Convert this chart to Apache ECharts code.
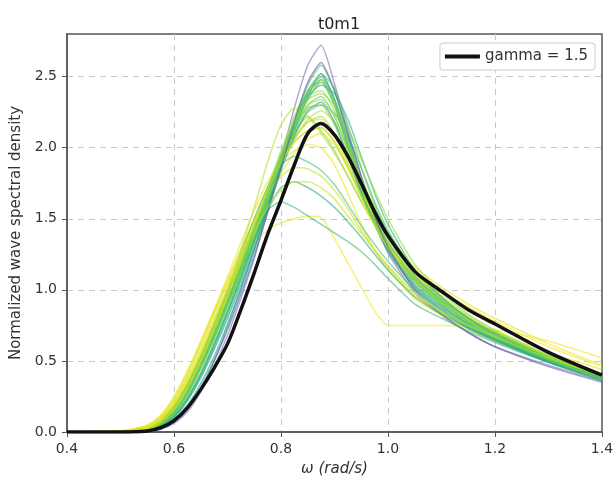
<!DOCTYPE html>
<html>
<head>
<meta charset="utf-8">
<script src="https://cdn.jsdelivr.net/npm/echarts@6/dist/echarts.min.js"></script>
<style>
  html, body { margin: 0; padding: 0; background: #ffffff; }
  #chart { width: 613px; height: 479px; }
</style>
</head>
<body>
<div id="chart"></div>
<script>
// Frequency grid (rad/s) shared by every spectrum
const omega = [0.40, 0.50, 0.55, 0.575, 0.60, 0.625, 0.65, 0.675, 0.70, 0.725, 0.75, 0.775, 0.80, 0.825, 0.85, 0.875, 0.90, 0.925, 0.95, 0.975, 1.00, 1.05, 1.10, 1.15, 1.20, 1.30, 1.40];

// Reference JONSWAP spectrum, gamma = 1.5
const gammaSpectrum = [0, 0, 0.007, 0.03, 0.08, 0.17, 0.30, 0.45, 0.62, 0.86, 1.12, 1.39, 1.63, 1.88, 2.10, 2.17, 2.09, 1.94, 1.75, 1.55, 1.38, 1.13, 0.99, 0.86, 0.76, 0.56, 0.40];

// Measured spectra (normalized), one per record
const s01 = [0, 0, 0.005, 0.02, 0.06, 0.14, 0.28, 0.46, 0.68, 0.94, 1.22, 1.56, 1.92, 2.28, 2.58, 2.72, 2.45, 2.12, 1.80, 1.50, 1.26, 0.98, 0.82, 0.70, 0.60, 0.47, 0.36];
const s02 = [0, 0, 0.01, 0.04, 0.10, 0.22, 0.38, 0.58, 0.80, 1.04, 1.30, 1.58, 1.86, 2.12, 2.36, 2.52, 2.34, 2.04, 1.74, 1.50, 1.30, 1.04, 0.88, 0.76, 0.66, 0.50, 0.38];
const s03 = [0, 0, 0.02, 0.06, 0.15, 0.29, 0.47, 0.68, 0.90, 1.13, 1.38, 1.64, 1.90, 2.14, 2.34, 2.46, 2.30, 2.02, 1.74, 1.50, 1.32, 1.07, 0.90, 0.77, 0.67, 0.51, 0.38];
const s04 = [0, 0, 0.02, 0.07, 0.17, 0.32, 0.50, 0.71, 0.93, 1.16, 1.40, 1.66, 1.90, 2.10, 2.25, 2.30, 2.16, 1.94, 1.70, 1.49, 1.32, 1.08, 0.92, 0.79, 0.69, 0.52, 0.39];
const s05 = [0, 0, 0.03, 0.08, 0.19, 0.35, 0.54, 0.75, 0.97, 1.20, 1.43, 1.66, 1.88, 2.06, 2.18, 2.22, 2.10, 1.90, 1.68, 1.48, 1.31, 1.08, 0.93, 0.80, 0.70, 0.53, 0.40];
const s06 = [0, 0.005, 0.04, 0.10, 0.22, 0.40, 0.62, 0.84, 1.04, 1.20, 1.33, 1.42, 1.47, 1.50, 1.52, 1.51, 1.36, 1.19, 1.02, 0.85, 0.75, 0.75, 0.75, 0.74, 0.72, 0.64, 0.52];
const s07 = [0, 0.005, 0.05, 0.12, 0.25, 0.43, 0.64, 0.86, 1.09, 1.33, 1.56, 1.76, 1.90, 1.98, 2.02, 2.00, 1.88, 1.68, 1.46, 1.28, 1.14, 0.94, 0.82, 0.72, 0.64, 0.50, 0.39];
const s08 = [0, 0, 0.02, 0.06, 0.15, 0.30, 0.48, 0.70, 0.93, 1.16, 1.38, 1.56, 1.62, 1.58, 1.52, 1.46, 1.40, 1.34, 1.27, 1.18, 1.08, 0.90, 0.80, 0.71, 0.63, 0.49, 0.37];
const s09 = [0, 0, 0.01, 0.05, 0.13, 0.27, 0.45, 0.66, 0.89, 1.12, 1.35, 1.56, 1.72, 1.76, 1.72, 1.66, 1.58, 1.48, 1.37, 1.25, 1.14, 0.95, 0.83, 0.73, 0.65, 0.50, 0.38];
const s10 = [0, 0, 0.03, 0.09, 0.20, 0.37, 0.57, 0.79, 1.01, 1.24, 1.46, 1.66, 1.80, 1.86, 1.85, 1.80, 1.70, 1.57, 1.42, 1.28, 1.16, 0.96, 0.84, 0.74, 0.66, 0.51, 0.39];
const s11 = [0, 0, 0.01, 0.04, 0.11, 0.23, 0.40, 0.61, 0.84, 1.08, 1.34, 1.62, 1.92, 2.20, 2.44, 2.58, 2.40, 2.08, 1.76, 1.50, 1.30, 1.03, 0.87, 0.75, 0.65, 0.50, 0.37];
const s12 = [0, 0, 0.02, 0.06, 0.16, 0.31, 0.50, 0.72, 0.95, 1.19, 1.44, 1.70, 1.96, 2.18, 2.36, 2.40, 2.26, 2.02, 1.76, 1.54, 1.36, 1.10, 0.93, 0.80, 0.70, 0.53, 0.39];
const s13 = [0, 0, 0.03, 0.08, 0.18, 0.33, 0.52, 0.73, 0.96, 1.19, 1.42, 1.66, 1.88, 2.06, 2.20, 2.26, 2.18, 2.00, 1.78, 1.58, 1.40, 1.14, 0.96, 0.82, 0.71, 0.54, 0.40];
const s14 = [0, 0, 0.01, 0.05, 0.12, 0.25, 0.42, 0.63, 0.86, 1.10, 1.36, 1.62, 1.88, 2.12, 2.30, 2.36, 2.22, 1.98, 1.72, 1.50, 1.32, 1.06, 0.90, 0.77, 0.67, 0.51, 0.38];
const s15 = [0, 0.01, 0.04, 0.10, 0.22, 0.39, 0.60, 0.82, 1.05, 1.28, 1.50, 1.72, 1.92, 2.08, 2.18, 2.20, 2.08, 1.88, 1.66, 1.46, 1.30, 1.06, 0.92, 0.80, 0.71, 0.56, 0.44];
const s16 = [0, 0, 0.01, 0.04, 0.11, 0.24, 0.41, 0.62, 0.85, 1.09, 1.35, 1.63, 1.92, 2.18, 2.40, 2.50, 2.34, 2.06, 1.76, 1.52, 1.33, 1.06, 0.89, 0.76, 0.66, 0.50, 0.37];
const s17 = [0, 0, 0.02, 0.06, 0.15, 0.30, 0.48, 0.70, 0.92, 1.16, 1.40, 1.66, 1.90, 2.10, 2.22, 2.12, 1.98, 1.80, 1.62, 1.46, 1.32, 1.09, 0.93, 0.80, 0.70, 0.53, 0.39];
const s18 = [0, 0, 0.005, 0.02, 0.07, 0.16, 0.30, 0.50, 0.74, 1.00, 1.28, 1.58, 1.88, 2.16, 2.38, 2.48, 2.30, 2.00, 1.70, 1.46, 1.27, 1.01, 0.85, 0.73, 0.64, 0.49, 0.36];
const s19 = [0, 0, 0.02, 0.07, 0.17, 0.33, 0.52, 0.74, 0.97, 1.21, 1.46, 1.72, 1.98, 2.22, 2.40, 2.46, 2.30, 2.04, 1.78, 1.56, 1.38, 1.12, 0.95, 0.81, 0.70, 0.53, 0.39];
const s20 = [0, 0.005, 0.04, 0.11, 0.24, 0.42, 0.63, 0.85, 1.07, 1.28, 1.48, 1.66, 1.82, 1.96, 2.06, 2.10, 2.02, 1.86, 1.68, 1.52, 1.38, 1.16, 1.02, 0.90, 0.80, 0.62, 0.47];
const s21 = [0, 0, 0.005, 0.03, 0.09, 0.19, 0.34, 0.53, 0.76, 1.01, 1.28, 1.56, 1.84, 2.08, 2.26, 2.32, 2.18, 1.94, 1.68, 1.46, 1.28, 1.02, 0.86, 0.74, 0.65, 0.49, 0.37];
const s22 = [0, 0, 0.02, 0.06, 0.14, 0.28, 0.46, 0.67, 0.90, 1.14, 1.39, 1.65, 1.90, 2.12, 2.28, 2.30, 2.24, 2.08, 1.86, 1.62, 1.42, 1.12, 0.94, 0.80, 0.69, 0.52, 0.38];
const s23 = [0, 0, 0.02, 0.07, 0.17, 0.33, 0.53, 0.75, 0.98, 1.22, 1.46, 1.70, 1.94, 2.14, 2.30, 2.34, 2.22, 1.98, 1.72, 1.50, 1.32, 1.07, 0.91, 0.78, 0.68, 0.52, 0.39];
const s24 = [0, 0, 0.02, 0.06, 0.15, 0.29, 0.47, 0.68, 0.90, 1.13, 1.38, 1.64, 1.88, 2.04, 2.12, 2.14, 2.04, 1.86, 1.66, 1.48, 1.33, 1.09, 0.93, 0.80, 0.70, 0.53, 0.39];
const s25 = [0, 0, 0.02, 0.07, 0.17, 0.33, 0.53, 0.76, 1.00, 1.25, 1.50, 1.72, 1.88, 1.94, 1.90, 1.84, 1.74, 1.60, 1.45, 1.32, 1.20, 1.00, 0.86, 0.75, 0.66, 0.51, 0.38];
const s26 = [0, 0, 0.02, 0.07, 0.17, 0.33, 0.53, 0.76, 1.00, 1.28, 1.58, 1.90, 2.16, 2.28, 2.22, 2.10, 1.96, 1.80, 1.62, 1.46, 1.32, 1.08, 0.92, 0.79, 0.69, 0.52, 0.38];
const s27 = [0, 0, 0.01, 0.04, 0.11, 0.23, 0.40, 0.60, 0.83, 1.07, 1.33, 1.60, 1.88, 2.14, 2.36, 2.44, 2.38, 2.20, 1.94, 1.68, 1.46, 1.14, 0.95, 0.80, 0.69, 0.52, 0.38];
const s28 = [0, 0, 0.02, 0.06, 0.15, 0.30, 0.49, 0.71, 0.94, 1.18, 1.43, 1.69, 1.95, 2.18, 2.34, 2.38, 2.30, 2.14, 1.92, 1.70, 1.50, 1.18, 0.98, 0.83, 0.72, 0.54, 0.40];
const s29 = [0, 0.005, 0.03, 0.09, 0.20, 0.36, 0.56, 0.78, 1.01, 1.24, 1.47, 1.70, 1.90, 2.04, 2.12, 2.14, 2.04, 1.86, 1.64, 1.45, 1.30, 1.10, 0.98, 0.88, 0.78, 0.60, 0.46];
const s30 = [0, 0, 0.01, 0.05, 0.13, 0.27, 0.45, 0.66, 0.89, 1.13, 1.38, 1.64, 1.90, 2.14, 2.34, 2.48, 2.32, 2.04, 1.76, 1.52, 1.34, 1.08, 0.91, 0.78, 0.68, 0.51, 0.37];
const s31 = [0, 0, 0.005, 0.02, 0.07, 0.16, 0.31, 0.50, 0.72, 0.97, 1.24, 1.54, 1.86, 2.18, 2.46, 2.60, 2.40, 2.10, 1.80, 1.52, 1.30, 1.00, 0.83, 0.70, 0.60, 0.46, 0.35];
const s32 = [0, 0, 0.02, 0.07, 0.16, 0.31, 0.50, 0.72, 0.95, 1.18, 1.40, 1.58, 1.70, 1.76, 1.76, 1.72, 1.64, 1.52, 1.40, 1.28, 1.17, 0.98, 0.85, 0.75, 0.67, 0.52, 0.40];
const s33 = [0, 0, 0.01, 0.05, 0.13, 0.27, 0.46, 0.68, 0.92, 1.16, 1.42, 1.68, 1.94, 2.18, 2.40, 2.52, 2.42, 2.16, 1.86, 1.60, 1.40, 1.10, 0.92, 0.78, 0.68, 0.51, 0.37];

const records = [s01, s02, s03, s04, s05, s06, s07, s08, s09, s10, s11, s12, s13, s14, s15, s16, s17,
                 s18, s19, s20, s21, s22, s23, s24, s25, s26, s27, s28, s29, s30, s31, s32, s33];

// Viridis-style colour for each record
const recordColors = ['#7b6fc0', '#21918c', '#5ec962', '#7ad151', '#a0da39', '#f4e61e', '#e8e419', '#3bbb75',
                      '#2ab07f', '#c2df23', '#44bf70', '#8fd744', '#b5de2b', '#60ca60', '#d8e219', '#35b779',
                      '#73d056', '#27ad81', '#9cd93b', '#e5e419', '#1f9e89', '#52c569', '#addc30', '#84d44b',
                      '#4ac16d', '#bade28', '#2db27d', '#95d840', '#f1e51d', '#6ece58', '#5b5f9e', '#cbe11e', '#58c765'];

const xTicks = { min: 0.4, max: 1.4, step: 0.2 };
const yTicks = { min: 0, max: 2.8, step: 0.5 };

const font = 'DejaVu Sans';

function pairs(values) {
  return omega.map((w, i) => [w, values[i]]);
}

const series = records.map((vals, i) => ({
  type: 'line',
  name: 'record ' + (i + 1),
  data: pairs(vals),
  showSymbol: false,
  symbol: 'none',
  smooth: 0.2,
  silent: true,
  z: 2,
  lineStyle: { color: recordColors[i], width: 1.5, opacity: 0.6 }
}));

series.push({
  type: 'line',
  name: 'gamma = 1.5',
  data: pairs(gammaSpectrum),
  showSymbol: false,
  symbol: 'none',
  smooth: 0.3,
  z: 5,
  itemStyle: { color: '#111111' },
  lineStyle: { color: '#111111', width: 3.5 }
});

const gridDash = { color: '#c8c8c8', type: [6, 5], width: 1 };

const chart = echarts.init(document.getElementById('chart'), null, { renderer: 'canvas' });

chart.setOption({
  animation: false,
  backgroundColor: '#ffffff',
  title: {
    text: 't0m1',
    left: 334,
    top: 12,
    textAlign: 'center',
    textStyle: { fontFamily: font, fontSize: 16, fontWeight: 'normal', color: '#222' }
  },
  legend: {
    data: [{ name: 'gamma = 1.5', icon: 'rect' }],
    right: 18,
    top: 43,
    itemWidth: 35,
    itemHeight: 4,
    itemGap: 8,
    padding: [6, 7, 6, 5],
    borderColor: '#cccccc',
    borderWidth: 1,
    borderRadius: 3,
    backgroundColor: '#ffffff',
    textStyle: { fontFamily: font, fontSize: 15, color: '#333' }
  },
  grid: {
    left: 67, right: 11, top: 34, bottom: 47,
    outerBoundsMode: 'none',
    containLabel: false,
    show: true,
    borderColor: '#555555',
    borderWidth: 1.5,
    backgroundColor: 'transparent'
  },
  xAxis: {
    type: 'value',
    min: xTicks.min,
    max: xTicks.max,
    interval: xTicks.step,
    name: 'ω (rad/s)',
    nameLocation: 'middle',
    nameGap: 30,
    nameTextStyle: { fontFamily: font, fontSize: 15, fontStyle: 'italic', color: '#333' },
    axisLine: { show: true, lineStyle: { color: '#555', width: 1.5 } },
    axisTick: { show: true, length: 5, lineStyle: { color: '#555' } },
    axisLabel: {
      fontFamily: font, fontSize: 14, color: '#333', margin: 10,
      formatter: v => v.toFixed(1)
    },
    splitLine: { show: true, showMinLine: false, showMaxLine: false, lineStyle: gridDash }
  },
  yAxis: {
    type: 'value',
    min: yTicks.min,
    max: yTicks.max,
    interval: yTicks.step,
    name: 'Normalized wave spectral density',
    nameLocation: 'middle',
    nameGap: 42,
    nameTextStyle: { fontFamily: font, fontSize: 15, color: '#333' },
    axisLine: { show: true, lineStyle: { color: '#555', width: 1.5 } },
    axisTick: { show: true, length: 5, lineStyle: { color: '#555' } },
    axisLabel: {
      fontFamily: font, fontSize: 14, color: '#333', margin: 10,
      showMaxLabel: false,
      formatter: v => v.toFixed(1)
    },
    splitLine: { show: true, showMinLine: false, showMaxLine: false, lineStyle: gridDash }
  },
  series: series
});
</script>
</body>
</html>
